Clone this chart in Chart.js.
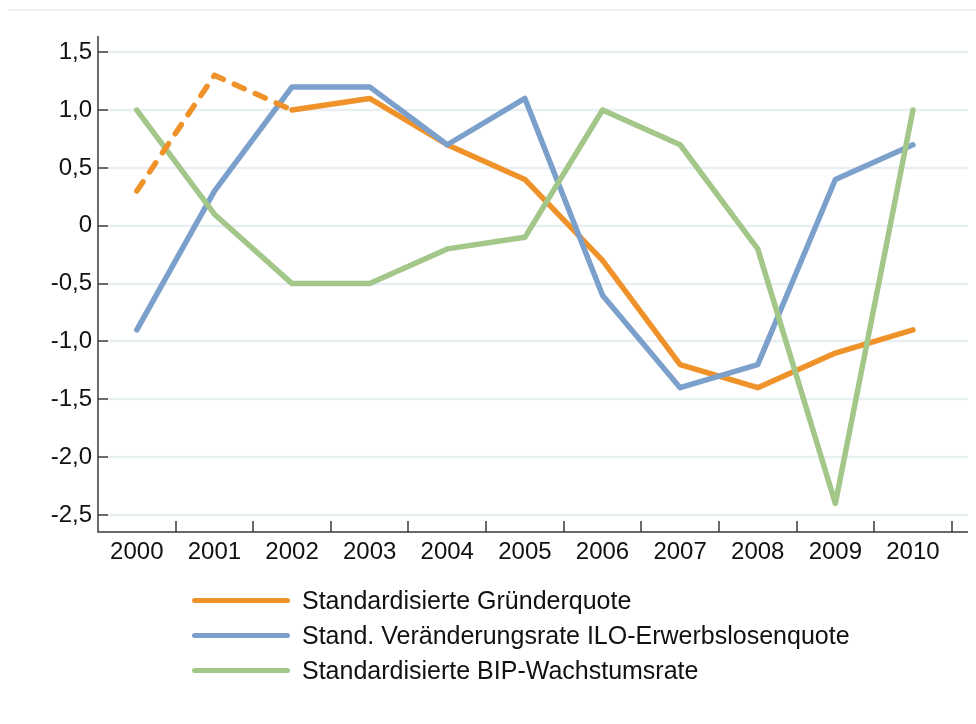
<!DOCTYPE html>
<html lang="de">
<head>
<meta charset="utf-8">
<script src="https://cdn.jsdelivr.net/npm/chart.js@4.4.1/dist/chart.umd.min.js"></script>
<style>
  body { margin: 0; background: #fff; }
  #wrap { position: relative; width: 976px; height: 724px; font-family: "Liberation Sans", Arial, sans-serif; }
  #chart { position: absolute; left: 0; top: 0; }
  .legend-item { position: absolute; left: 192px; height: 30px; display: flex; align-items: center; }
  .legend-line { width: 98px; height: 5px; border-radius: 3px; margin-right: 12px; }
  .legend-text { font-size: 25px; color: #111; white-space: nowrap; }
</style>
</head>
<body>
<div id="wrap">
  <canvas id="chart" width="976" height="724"></canvas>
  <div id="legend"></div>
</div>
<script>
  // data
  const years = [2000, 2001, 2002, 2003, 2004, 2005, 2006, 2007, 2008, 2009, 2010];
  const gruenderquote = [0.3, 1.3, 1.0, 1.1, 0.7, 0.4, -0.3, -1.2, -1.4, -1.1, -0.9];
  const erwerbslosenquote = [-0.9, 0.3, 1.2, 1.2, 0.7, 1.1, -0.6, -1.4, -1.2, 0.4, 0.7];
  const bipWachstum = [1.0, 0.1, -0.5, -0.5, -0.2, -0.1, 1.0, 0.7, -0.2, -2.4, 1.0];
  const yTicks = [1.5, 1.0, 0.5, 0, -0.5, -1.0, -1.5, -2.0, -2.5];
  const seriesNames = [
    'Standardisierte Gründerquote',
    'Stand. Veränderungsrate ILO-Erwerbslosenquote',
    'Standardisierte BIP-Wachstumsrate'
  ];
  const colors = ['#F0922A', '#7CA0CC', '#A3C689'];
  const dashedUntil = 2; // first segments of the Gründerquote are dashed

  const toPoints = arr => years.map((yr, i) => ({ x: yr, y: arr[i] }));

  // gridlines, axis lines and the inward tick marks
  const axesPlugin = {
    id: 'axesPlugin',
    beforeDatasetsDraw(chart) {
      const ctx = chart.ctx;
      const area = chart.chartArea;
      const yScale = chart.scales.y;
      ctx.save();
      // faint top rule
      ctx.strokeStyle = '#eef2f4';
      ctx.lineWidth = 2;
      ctx.beginPath();
      ctx.moveTo(8, 10);
      ctx.lineTo(976, 10);
      ctx.stroke();
      // horizontal gridlines
      ctx.strokeStyle = '#e7eff3';
      ctx.lineWidth = 2.5;
      yTicks.forEach(v => {
        const py = Math.round(yScale.getPixelForValue(v));
        ctx.beginPath();
        ctx.moveTo(area.left + 10, py);
        ctx.lineTo(area.right, py);
        ctx.stroke();
      });
      ctx.restore();
    },
    afterDatasetsDraw(chart) {
      const ctx = chart.ctx;
      const area = chart.chartArea;
      const xScale = chart.scales.x;
      const yScale = chart.scales.y;
      ctx.save();
      ctx.strokeStyle = '#3a3a3a';
      ctx.lineWidth = 1.5;
      ctx.beginPath();
      ctx.moveTo(area.left, area.top);
      ctx.lineTo(area.left, area.bottom);
      ctx.lineTo(area.right, area.bottom);
      ctx.stroke();
      yTicks.forEach(v => {
        const py = Math.round(yScale.getPixelForValue(v));
        ctx.beginPath();
        ctx.moveTo(area.left, py);
        ctx.lineTo(area.left + 10, py);
        ctx.stroke();
      });
      years.forEach(yr => {
        const px = Math.round(xScale.getPixelForValue(yr + 0.5));
        ctx.beginPath();
        ctx.moveTo(px, area.bottom);
        ctx.lineTo(px, area.bottom - 11);
        ctx.stroke();
      });
      ctx.restore();
    }
  };

  const lineDefaults = {
    borderWidth: 5.5,
    pointRadius: 0,
    tension: 0,
    borderCapStyle: 'round',
    borderJoinStyle: 'round',
    fill: false
  };

  new Chart(document.getElementById('chart'), {
    type: 'line',
    data: {
      datasets: [
        Object.assign({}, lineDefaults, {
          label: seriesNames[0],
          data: toPoints(gruenderquote),
          borderColor: colors[0],
          backgroundColor: colors[0],
          order: 3,
          segment: {
            borderColor: c => c.p0DataIndex < dashedUntil ? 'rgba(0,0,0,0)' : undefined
          }
        }),
        Object.assign({}, lineDefaults, {
          label: seriesNames[1],
          data: toPoints(erwerbslosenquote),
          borderColor: colors[1],
          backgroundColor: colors[1],
          order: 2
        }),
        Object.assign({}, lineDefaults, {
          label: seriesNames[2],
          data: toPoints(bipWachstum),
          borderColor: colors[2],
          backgroundColor: colors[2],
          order: 1
        }),
        // dashed start of the Gründerquote, drawn on top
        Object.assign({}, lineDefaults, {
          label: seriesNames[0] + ' (gestrichelt)',
          data: toPoints(gruenderquote).slice(0, dashedUntil + 1),
          borderColor: colors[0],
          backgroundColor: colors[0],
          borderDash: [11, 12],
          order: 0
        })
      ]
    },
    options: {
      responsive: false,
      animation: false,
      layout: { padding: { top: 36, right: 8, left: 0, bottom: 0 } },
      plugins: {
        legend: { display: false },
        tooltip: { enabled: false }
      },
      scales: {
        x: {
          type: 'linear',
          min: 1999.5,
          max: 2010.709,
          grid: { display: false, drawTicks: false },
          border: { display: false },
          afterBuildTicks: s => { s.ticks = years.map(v => ({ value: v })); },
          afterFit: s => { s.height = 724 - 532; },
          ticks: {
            padding: 6,
            maxRotation: 0,
            autoSkip: false,
            color: '#111',
            font: { family: '"Liberation Sans", Arial, sans-serif', size: 24 },
            callback: v => String(v)
          }
        },
        y: {
          min: -2.647,
          max: 1.64,
          grid: { display: false, drawTicks: false },
          border: { display: false },
          afterBuildTicks: s => { s.ticks = yTicks.map(v => ({ value: v })); },
          afterFit: s => { s.width = 98; },
          ticks: {
            padding: 6,
            color: '#111',
            font: { family: '"Liberation Sans", Arial, sans-serif', size: 24 },
            callback: v => v === 0 ? '0' : v.toFixed(1).replace('.', ',')
          }
        }
      }
    },
    plugins: [axesPlugin]
  });

  // legend below the plot
  const legend = document.getElementById('legend');
  const legendY = [600, 635, 670];
  seriesNames.forEach((name, i) => {
    const item = document.createElement('div');
    item.className = 'legend-item';
    item.style.top = (legendY[i] - 15) + 'px';
    item.innerHTML = `<div class="legend-line" style="background:${colors[i]}"></div><span class="legend-text">${name}</span>`;
    legend.appendChild(item);
  });
</script>
</body>
</html>
